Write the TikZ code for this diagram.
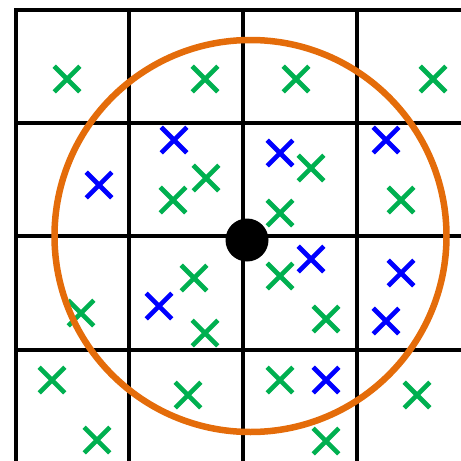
\documentclass[tikz,border=0pt]{standalone}
\usetikzlibrary{shapes.misc}
\definecolor{ptgreen}{RGB}{0,176,80}
\definecolor{ptblue}{RGB}{0,0,255}
\definecolor{rangeorange}{RGB}{228,108,10}
\tikzset{
    cell/.style={line width=3.4pt},
    axisline/.style={line width=4.8pt},
    xmark/.style={cross out, draw, line width=4.6pt, minimum size=21pt, inner sep=0pt},
    searchring/.style={circle, draw=rangeorange, line width=6.5pt, minimum size=392pt, inner sep=0pt},
    query/.style={circle, fill=black, minimum size=43pt, inner sep=0pt},
}

\begin{document}
\begin{tikzpicture}[x=1pt, y=-1pt]
\useasboundingbox (0,0) rectangle (461,461);

% ── Grid ──
\coordinate (gridtl) at (16,10);
\coordinate (gridbl) at (16,461);
\coordinate (gridtr) at (461,10);
\draw[cell, line join=miter] (gridbl) -- (gridtl) -- (gridtr);
\foreach \gx in {129, 357}
    \draw[cell] (\gx,10) -- (\gx,461);
\draw[axisline] (243,10) -- (243,461);
\foreach \gy in {123, 236, 350}
    \draw[cell] (16,\gy) -- (461,\gy);

% ── Points ──
\foreach \px/\py [count=\i] in {67/79, 205/79, 296/79, 433/79, 311/168, 206/178, 173/200, 401/200, 280/213, 194/278, 280/276, 81/313, 326/319, 205/333, 52/380, 280/380, 188/395, 417/395, 97/440, 326/441}
    \node[xmark, draw=ptgreen] (g\i) at (\px,\py) {};
\foreach \px/\py [count=\i] in {174/140, 386/140, 280/153, 99/185, 311/259, 401/273, 159/306, 386/321, 326/380}
    \node[xmark, draw=ptblue] (b\i) at (\px,\py) {};

% ── Search range ──
\node[searchring] (ring) at (250.5,236) {};
\node[query] (center) at (247,240) {};

\end{tikzpicture}
\end{document}
